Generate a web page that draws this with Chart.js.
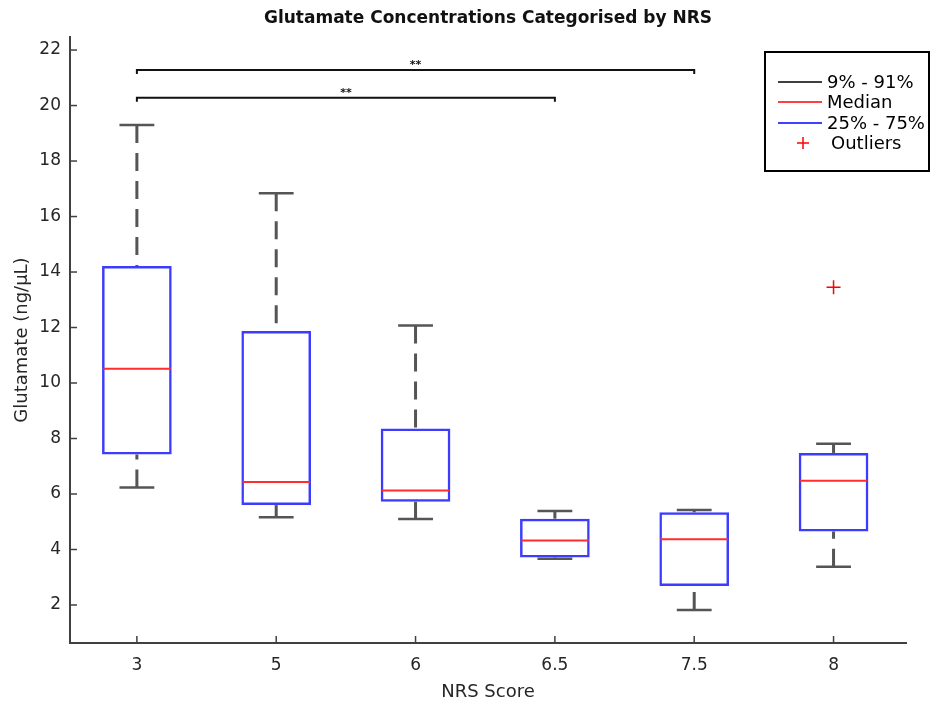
<!DOCTYPE html>
<html>
<head>
<meta charset="utf-8">
<title>Glutamate by NRS</title>
<script src="https://cdn.jsdelivr.net/npm/chart.js@4.4.1/dist/chart.umd.min.js"></script>
<style>
  html, body { margin: 0; padding: 0; background: #fff; }
  canvas { display: block; }
</style>
</head>
<body>
<canvas id="nrsChart" width="931" height="704"></canvas>
<script>
// NRS score groups, plotted at positions 1..n on the x axis
const nrsScores = ['3', '5', '6', '6.5', '7.5', '8'];

// Box plot summary per group (ng/µL)
const whiskerLow  = [6.23, 5.16, 5.10, 3.67, 1.82, 3.38];   // 9th percentile
const quartile1   = [7.42, 5.60, 5.72, 3.71, 2.68, 4.65];
const medians     = [10.51, 6.43, 6.13, 4.32, 4.37, 6.48];
const quartile3   = [14.22, 11.87, 8.36, 5.11, 5.34, 7.48];
const whiskerHigh = [19.30, 16.84, 12.07, 5.39, 5.42, 7.81]; // 91st percentile

// Outliers: group position and value
const outlierGroup = [6];
const outlierValue = [13.45];

// Significance brackets between groups
const bracketFrom  = [1, 1];
const bracketTo    = [5, 4];
const bracketLevel = [21.28, 20.28];
const bracketText  = ['**', '**'];

const yTicks = [2, 4, 6, 8, 10, 12, 14, 16, 18, 20, 22];

const FONT = "'DejaVu Sans', 'Liberation Sans', Arial, sans-serif";
const AXIS_COLOR = '#404040';
const TEXT_COLOR = '#262626';
const BOX_COLOR = 'rgb(60, 60, 255)';
const MEDIAN_COLOR = 'rgb(255, 45, 45)';
const WHISKER_COLOR = '#555555';
const DASH = [18, 10];

function line(ctx, x1, y1, x2, y2) {
  ctx.beginPath();
  ctx.moveTo(x1, y1);
  ctx.lineTo(x2, y2);
  ctx.stroke();
}

// Whiskers, caps, medians, significance brackets, inward ticks and the legend
const boxExtras = {
  id: 'boxExtras',
  afterDatasetsDraw(chart) {
    const { ctx, chartArea } = chart;
    const xs = chart.scales.x;
    const ys = chart.scales.y;
    const boxes = chart.getDatasetMeta(0).data;

    ctx.save();
    nrsScores.forEach((_, i) => {
      const pos = i + 1;
      const cx = xs.getPixelForValue(pos);
      const capL = xs.getPixelForValue(pos - 0.125);
      const capR = xs.getPixelForValue(pos + 0.125);
      const yHi = ys.getPixelForValue(whiskerHigh[i]);
      const yLo = ys.getPixelForValue(whiskerLow[i]);
      const yQ3 = ys.getPixelForValue(quartile3[i]);
      const yQ1 = ys.getPixelForValue(quartile1[i]);

      // dashed stems run from each cap towards the box
      ctx.strokeStyle = WHISKER_COLOR;
      ctx.lineWidth = 3;
      ctx.setLineDash(DASH);
      if (yLo > yQ1 + 1) line(ctx, cx, yLo, cx, yQ1);
      if (yHi < yQ3 - 1) line(ctx, cx, yHi, cx, yQ3);
      ctx.setLineDash([]);
      ctx.lineWidth = 2.5;
      line(ctx, capL, yHi, capR, yHi);
      line(ctx, capL, yLo, capR, yLo);

      const bar = boxes[i];
      const ym = ys.getPixelForValue(medians[i]);
      ctx.strokeStyle = MEDIAN_COLOR;
      ctx.lineWidth = 2;
      line(ctx, bar.x - bar.width / 2 + 1, ym, bar.x + bar.width / 2 - 1, ym);
    });

    // significance brackets
    ctx.strokeStyle = '#111';
    ctx.fillStyle = '#111';
    ctx.lineWidth = 2;
    ctx.font = 'bold 11px ' + FONT;
    ctx.textAlign = 'center';
    ctx.textBaseline = 'bottom';
    bracketLevel.forEach((lvl, k) => {
      const x1 = xs.getPixelForValue(bracketFrom[k]);
      const x2 = xs.getPixelForValue(bracketTo[k]);
      const y = ys.getPixelForValue(lvl);
      ctx.beginPath();
      ctx.moveTo(x1, y + 4);
      ctx.lineTo(x1, y);
      ctx.lineTo(x2, y);
      ctx.lineTo(x2, y + 4);
      ctx.stroke();
      ctx.fillText(bracketText[k], (x1 + x2) / 2, y + 1);
    });

    // tick marks pointing into the plot
    ctx.strokeStyle = AXIS_COLOR;
    ctx.lineWidth = 1.5;
    ys.ticks.forEach(t => {
      const py = ys.getPixelForValue(t.value);
      line(ctx, chartArea.left, py, chartArea.left + 7, py);
    });
    xs.ticks.forEach(t => {
      const px = xs.getPixelForValue(t.value);
      line(ctx, px, chartArea.bottom, px, chartArea.bottom - 7);
    });

    // legend
    const lx = 765, ly = 52, lw = 164, lh = 119;
    ctx.fillStyle = '#fff';
    ctx.fillRect(lx, ly, lw, lh);
    ctx.strokeStyle = '#000';
    ctx.lineWidth = 2;
    ctx.strokeRect(lx, ly, lw, lh);

    const rows = [
      { label: '9% - 91%', color: '#000', y: 82 },
      { label: 'Median', color: 'rgb(255, 0, 0)', y: 102 },
      { label: '25% - 75%', color: 'rgb(0, 0, 255)', y: 123 }
    ];
    ctx.font = '18px ' + FONT;
    ctx.textAlign = 'left';
    ctx.textBaseline = 'middle';
    rows.forEach(r => {
      ctx.strokeStyle = r.color;
      ctx.lineWidth = 1.5;
      line(ctx, 778, r.y, 822, r.y);
      ctx.fillStyle = '#000';
      ctx.fillText(r.label, 827, r.y + 1);
    });
    ctx.strokeStyle = 'rgb(255, 0, 0)';
    ctx.lineWidth = 1.5;
    line(ctx, 797, 143, 809, 143);
    line(ctx, 803, 137, 803, 149);
    ctx.fillStyle = '#000';
    ctx.fillText('Outliers', 831, 144);

    ctx.restore();
  }
};

const boxData = nrsScores.map((_, i) => ({ x: i + 1, y: [quartile1[i], quartile3[i]] }));
const outlierData = outlierGroup.map((g, k) => ({ x: g, y: outlierValue[k] }));

new Chart(document.getElementById('nrsChart'), {
  type: 'bar',
  data: {
    datasets: [
      {
        label: '25% - 75%',
        data: boxData,
        backgroundColor: 'rgba(0, 0, 0, 0)',
        borderColor: BOX_COLOR,
        borderWidth: 2.5,
        borderSkipped: false,
        barPercentage: 0.5,
        categoryPercentage: 1
      },
      {
        type: 'scatter',
        label: 'Outliers',
        data: outlierData,
        pointStyle: 'cross',
        radius: 7,
        borderColor: 'rgb(255, 0, 0)',
        borderWidth: 1.5,
        backgroundColor: 'rgb(255, 0, 0)'
      }
    ]
  },
  options: {
    responsive: false,
    animation: false,
    layout: { padding: { left: 0, right: 25, top: 0, bottom: 0 } },
    plugins: {
      legend: { display: false },
      tooltip: { enabled: false },
      title: {
        display: true,
        fullSize: false,
        text: 'Glutamate Concentrations Categorised by NRS',
        color: '#111',
        font: { family: FONT, size: 17, weight: 'bold', lineHeight: 1.2 },
        padding: { top: 8, bottom: 8.6 }
      }
    },
    scales: {
      x: {
        type: 'linear',
        min: 0.52,
        max: 6.52,
        offset: false,
        grid: { display: false, drawTicks: false },
        border: { display: true, color: AXIS_COLOR, width: 2 },
        afterBuildTicks: s => { s.ticks = nrsScores.map((_, i) => ({ value: i + 1 })); },
        afterFit: s => { s.height = 61; },
        ticks: {
          callback: (v, idx) => nrsScores[idx],
          autoSkip: false,
          maxRotation: 0,
          padding: 12,
          color: TEXT_COLOR,
          font: { family: FONT, size: 17 }
        },
        title: {
          display: true,
          text: 'NRS Score',
          color: TEXT_COLOR,
          font: { family: FONT, size: 18, lineHeight: 1.2 },
          padding: { top: 4, bottom: 1 }
        }
      },
      y: {
        min: 0.63,
        max: 22.47,
        grid: { display: false, drawTicks: false },
        border: { display: true, color: AXIS_COLOR, width: 2 },
        afterBuildTicks: s => { s.ticks = yTicks.map(v => ({ value: v })); },
        afterFit: s => { s.width = 70; },
        ticks: {
          padding: 9,
          color: TEXT_COLOR,
          font: { family: FONT, size: 17 }
        },
        title: {
          display: true,
          text: 'Glutamate (ng/µL)',
          color: TEXT_COLOR,
          font: { family: FONT, size: 18, lineHeight: 1.2 },
          padding: { top: 12, bottom: 4 }
        }
      }
    }
  },
  plugins: [boxExtras]
});
</script>
</body>
</html>
